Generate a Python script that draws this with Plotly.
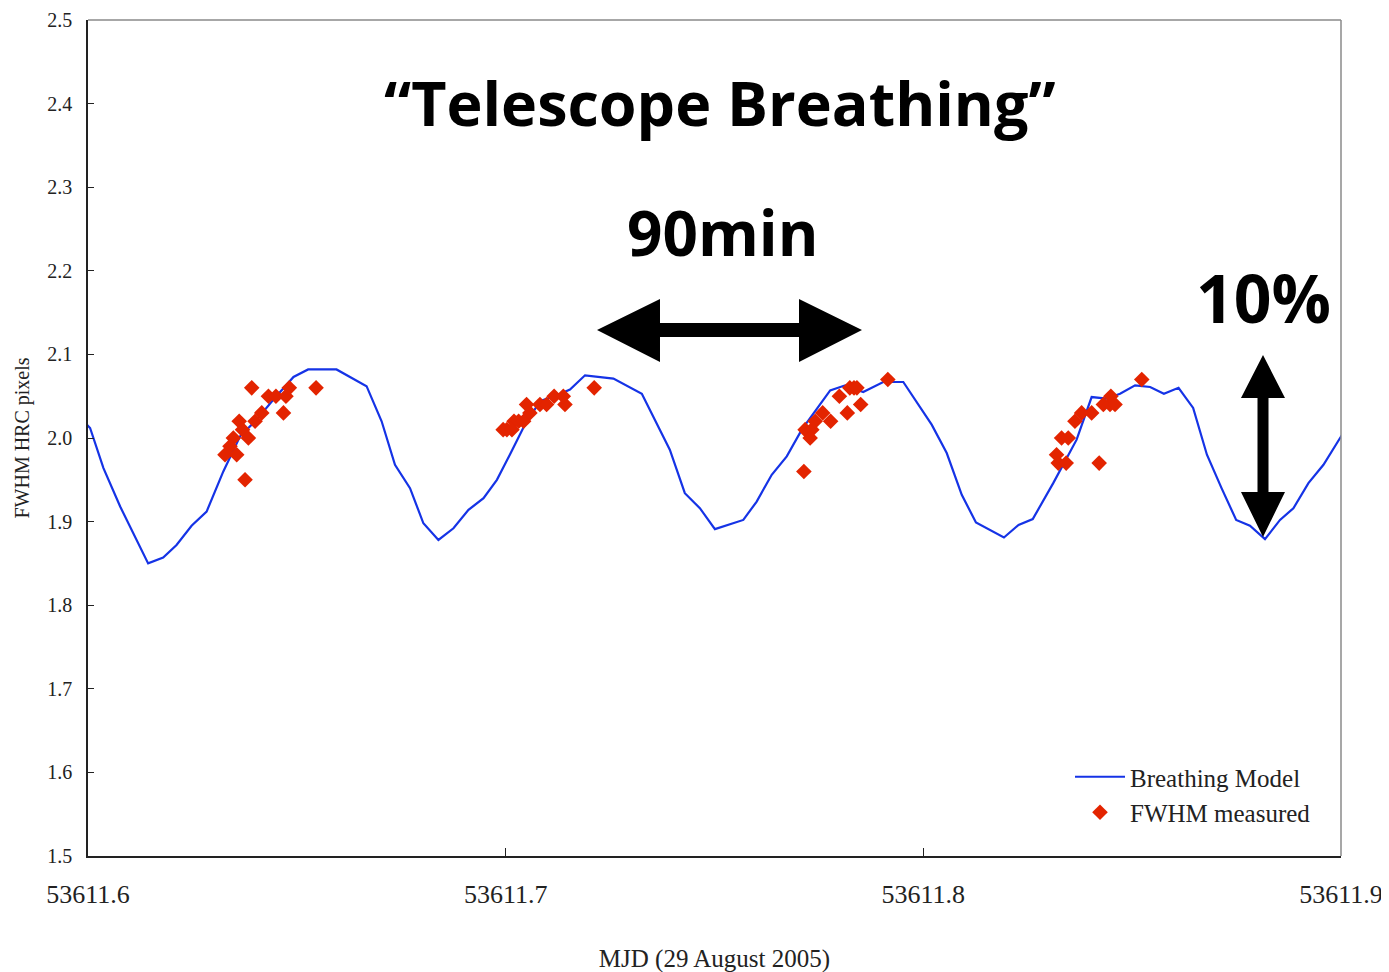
import plotly.graph_objects as go

# ---- data ----
model_mjd = [53611.5985, 53611.6005, 53611.6037, 53611.6077, 53611.6144, 53611.6180, 53611.6212,
             53611.6248, 53611.6284, 53611.6324, 53611.6364, 53611.6404, 53611.6444, 53611.6492,
             53611.6527, 53611.6595, 53611.6667, 53611.6703, 53611.6735, 53611.6771, 53611.6803,
             53611.6839, 53611.6875, 53611.6911, 53611.6947, 53611.6979, 53611.7010, 53611.7042,
             53611.7082, 53611.7122, 53611.7154, 53611.7190, 53611.7258, 53611.7326, 53611.7393,
             53611.7429, 53611.7465, 53611.7501, 53611.7569, 53611.7601, 53611.7637, 53611.7673,
             53611.7709, 53611.7777, 53611.7813, 53611.7856, 53611.7904, 53611.7952, 53611.8020,
             53611.8056, 53611.8092, 53611.8126, 53611.8193, 53611.8228, 53611.8262, 53611.8311,
             53611.8367, 53611.8403, 53611.8439, 53611.8471, 53611.8507, 53611.8543, 53611.8576,
             53611.8611, 53611.8646, 53611.8679, 53611.8714, 53611.8749, 53611.8782, 53611.8818,
             53611.8854, 53611.8886, 53611.8922, 53611.8958, 53611.9014]
model_fwhm = [2.022, 2.012, 1.964, 1.918, 1.850, 1.857, 1.872,
              1.895, 1.912, 1.960, 2.002, 2.022, 2.046, 2.073,
              2.082, 2.082, 2.062, 2.020, 1.968, 1.940, 1.898,
              1.878, 1.892, 1.914, 1.928, 1.950, 1.980, 2.012,
              2.044, 2.051, 2.058, 2.075, 2.071, 2.053, 1.986,
              1.934, 1.916, 1.891, 1.902, 1.924, 1.956, 1.978,
              2.010, 2.057, 2.063, 2.055, 2.067, 2.067, 2.016,
              1.982, 1.932, 1.899, 1.881, 1.896, 1.903, 1.946,
              1.998, 2.049, 2.047, 2.053, 2.063, 2.061, 2.053,
              2.060, 2.036, 1.980, 1.940, 1.902, 1.895, 1.879,
              1.902, 1.916, 1.946, 1.968, 2.013]

meas_mjd = [53611.6392, 53611.6432, 53611.6450, 53611.6474, 53611.6482, 53611.6546, 53611.6416,
            53611.6468, 53611.6362, 53611.6400, 53611.6370, 53611.6348, 53611.6384, 53611.6340,
            53611.6328, 53611.6356, 53611.6376,
            53611.6994, 53611.7003, 53611.7015, 53611.7020, 53611.7031, 53611.7043, 53611.7058,
            53611.7050, 53611.7082, 53611.7098, 53611.7142, 53611.7116, 53611.7138, 53611.7212,
            53611.7714, 53611.7717, 53611.7733, 53611.7729, 53611.7741, 53611.7759, 53611.7778,
            53611.7799, 53611.7818, 53611.7824, 53611.7834, 53611.7841, 53611.7850, 53611.7915,
            53611.8319, 53611.8323, 53611.8342, 53611.8331, 53611.8347, 53611.8363, 53611.8379,
            53611.8403, 53611.8421, 53611.8431, 53611.8447, 53611.8449, 53611.8459, 53611.8523]
meas_fwhm = [2.06, 2.05, 2.05, 2.05, 2.06, 2.06, 2.03,
             2.03, 2.02, 2.02, 2.01, 2.00, 2.00, 1.99,
             1.98, 1.98, 1.95,
             2.01, 2.01, 2.01, 2.02, 2.02, 2.02, 2.03,
             2.04, 2.04, 2.04, 2.04, 2.05, 2.05, 2.06,
             1.96, 2.01, 2.01, 2.00, 2.02, 2.03, 2.02,
             2.05, 2.03, 2.06, 2.06, 2.06, 2.04, 2.07,
             1.98, 1.97, 1.97, 2.00, 2.00, 2.02, 2.03,
             2.03, 1.97, 2.04, 2.04, 2.05, 2.04, 2.07]

x_ticks = [53611.6, 53611.7, 53611.8, 53611.9]
x_ticklabels = ["53611.6", "53611.7", "53611.8", "53611.9"]
y_ticks = [1.5, 1.6, 1.7, 1.8, 1.9, 2.0, 2.1, 2.2, 2.3, 2.4, 2.5]
y_ticklabels = ["1.5", "1.6", "1.7", "1.8", "1.9", "2.0", "2.1", "2.2", "2.3", "2.4", "2.5"]

# ---- layout geometry (page pixels; the page body adds an 8px offset) ----
OFF = 8
W, H = 1389, 972
L, R, T, B = 88, 1341, 20, 856   # plot area in page pixels


def px(x, y):
    return (x - L) / (R - L), (B - y) / (B - T)


def poly(points):
    pts = [px(a, b) for a, b in points]
    return "M " + " L ".join(f"{a:.5f},{b:.5f}" for a, b in pts) + " Z"


serif = "Liberation Serif, Times New Roman, serif"
sans = "Open Sans, Lato, sans-serif"

fig = go.Figure()
fig.add_trace(go.Scatter(x=model_mjd, y=model_fwhm, mode="lines", name="Breathing Model",
                         line=dict(color="#1533e6", width=2.2)))
fig.add_trace(go.Scatter(x=meas_mjd, y=meas_fwhm, mode="markers", name="FWHM measured",
                         marker=dict(symbol="diamond", size=12, color="#e32400",
                                     line=dict(width=0))))

harrow = [(597, 330), (660, 299), (660, 323), (799, 323), (799, 299), (862, 330),
          (799, 362), (799, 337), (660, 337), (660, 362)]
varrow = [(1263, 355), (1285, 398), (1268.5, 398), (1268.5, 492), (1285, 492), (1263, 537),
          (1241, 492), (1257.5, 492), (1257.5, 398), (1241, 398)]

shapes = [
    dict(type="path", xref="paper", yref="paper", path=poly(harrow), fillcolor="black",
         line=dict(width=0)),
    dict(type="path", xref="paper", yref="paper", path=poly(varrow), fillcolor="black",
         line=dict(width=0)),
    dict(type="line", xref="paper", yref="paper", x0=0, x1=1, y0=1, y1=1,
         line=dict(color="#8a8a8a", width=1.5)),
    dict(type="line", xref="paper", yref="paper", x0=1, x1=1, y0=0, y1=1,
         line=dict(color="#8a8a8a", width=1.5)),
]

ann = []
for text, cx, cy, size in [("\u201cTelescope Breathing\u201d", 720, 102, 61),
                           ("90min", 722, 232, 62), ("10%", 1263, 297, 66)]:
    ax_, ay_ = px(cx, cy)
    ann.append(dict(text=text, x=ax_, y=ay_, xref="paper", yref="paper", showarrow=False,
                    xanchor="center", yanchor="middle",
                    font=dict(family=sans, size=size, color="black", weight="bold")))

fig.update_layout(
    width=W, height=H,
    margin=dict(l=L - OFF, r=W - (R - OFF), t=T - OFF, b=H - (B - OFF), autoexpand=False),
    paper_bgcolor="white", plot_bgcolor="white",
    showlegend=True,
    legend=dict(x=px(1070, 0)[0], y=px(0, 754)[1], xanchor="left", yanchor="top",
                bgcolor="rgba(0,0,0,0)", font=dict(family=serif, size=25, color="#222"),
                tracegroupgap=0, itemwidth=50),
    shapes=shapes,
    annotations=ann,
    xaxis=dict(range=[53611.6, 53611.9], tickvals=x_ticks, ticktext=x_ticklabels,
               automargin=False,
               showgrid=False, zeroline=False, showline=True, linecolor="#222", linewidth=1.5,
               ticks="inside", ticklen=8, tickcolor="#222", tickwidth=1,
               ticklabelstandoff=14,
               tickfont=dict(family=serif, size=26, color="#222"),
               title=dict(text="MJD (29 August 2005)", standoff=42,
                          font=dict(family=serif, size=25, color="#222"))),
    yaxis=dict(range=[1.5, 2.5], tickvals=y_ticks, ticktext=y_ticklabels,
               automargin=False,
               showgrid=False, zeroline=False, showline=True, linecolor="#222", linewidth=1.5,
               ticks="inside", ticklen=6, tickcolor="#222", tickwidth=1,
               ticklabelstandoff=10,
               tickfont=dict(family=serif, size=20, color="#222"),
               title=dict(text="FWHM HRC pixels", standoff=12,
                          font=dict(family=serif, size=20, color="#222"))),
)

fig.write_html("out.html")
